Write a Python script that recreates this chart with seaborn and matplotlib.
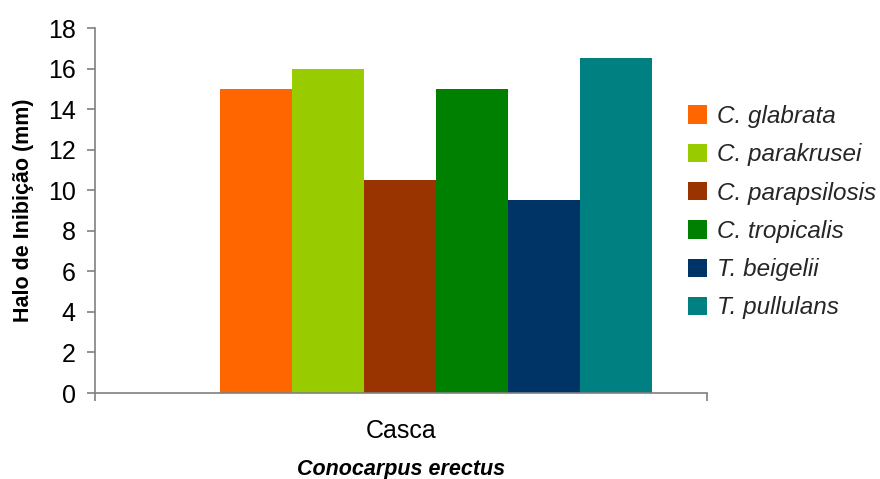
import matplotlib
matplotlib.use("Agg")
import matplotlib.pyplot as plt
import seaborn as sns
import pandas as pd

# Inhibition halo (mm) of the bark extract against each yeast
parte = ["Casca"]
especies = ["C. glabrata", "C. parakrusei", "C. parapsilosis",
            "C. tropicalis", "T. beigelii", "T. pullulans"]
halo = [15, 16, 10.5, 15, 9.5, 16.5]
cores = ["#FF6600", "#99CC00", "#993300", "#008000", "#003366", "#008080"]
yticks = [0, 2, 4, 6, 8, 10, 12, 14, 16, 18]

df = pd.DataFrame({"parte": parte * len(especies), "especie": especies, "halo": halo})

sns.set_theme(style="white")
plt.rcParams["font.family"] = ["Liberation Sans", "DejaVu Sans"]

fig = plt.figure(figsize=(8.8, 4.79), dpi=100)
ax = fig.add_axes([0.108, 0.1795, 0.6954, 0.762])

sns.barplot(data=df, x="parte", y="halo", hue="especie", hue_order=especies,
            palette=cores, width=0.8, gap=0, saturation=1, linewidth=0, ax=ax)

ax.set_ylim(0, 18)
ax.set_yticks(yticks)
xlim = (-0.6315, 0.5019)
ax.set_xlim(*xlim)
ax.set_xticks([(xlim[0] + xlim[1]) / 2], parte)
ax.set_xticks(list(xlim), minor=True)

for side in ("top", "right"):
    ax.spines[side].set_visible(False)
for side in ("left", "bottom"):
    ax.spines[side].set_color("#808080")
    ax.spines[side].set_linewidth(1.2)

ax.tick_params(axis="y", which="major", direction="out", length=6, width=1.2,
               color="#808080", labelsize=18, pad=8, left=True, labelcolor="black")
ax.tick_params(axis="x", which="major", length=0, labelsize=18, pad=19,
               labelcolor="black")
ax.tick_params(axis="x", which="minor", direction="out", length=6, width=1.2,
               color="#808080", bottom=True)

ax.set_ylabel("Halo de Inibição (mm)", fontsize=15.5, fontweight="bold",
              labelpad=10, color="black")
ax.set_xlabel("Conocarpus erectus", fontsize=15.5, fontweight="bold",
              fontstyle="italic", labelpad=11, color="black")

sns.move_legend(ax, loc="center left", bbox_to_anchor=(0.7818, 0.557),
                bbox_transform=fig.transFigure, title=None, frameon=False,
                prop={"size": 17.5, "style": "italic"}, handlelength=0.78,
                handleheight=0.78, handletextpad=0.4, labelspacing=0.63,
                borderpad=0, borderaxespad=0)

fig.savefig("out.png", dpi=100)
